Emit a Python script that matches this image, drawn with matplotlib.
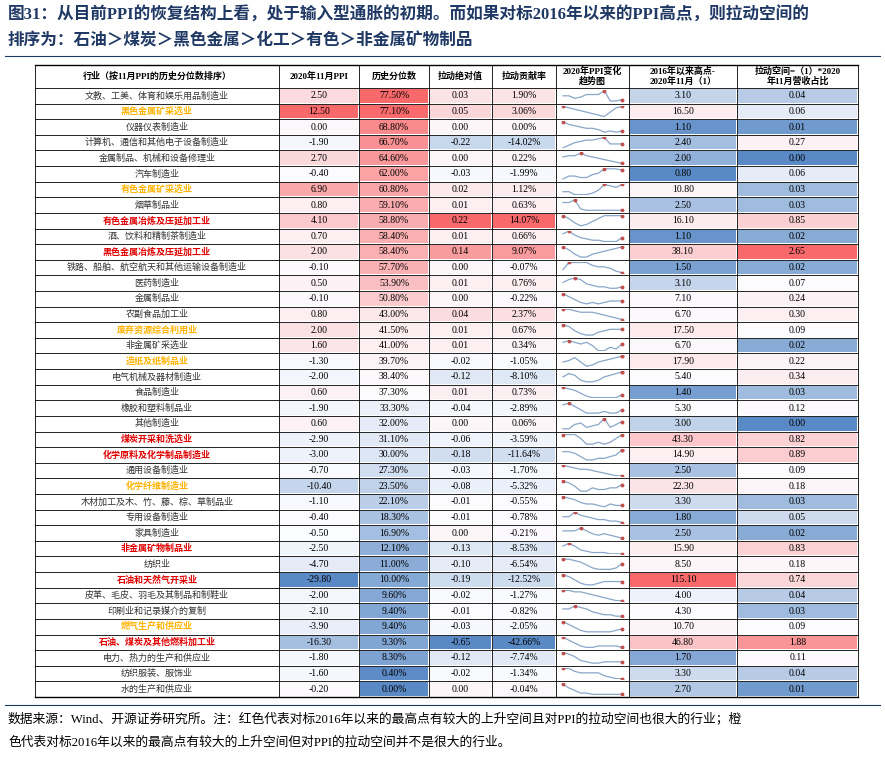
import numpy as np
import matplotlib.pyplot as plt
from matplotlib.patches import Rectangle

plt.rcParams['font.family'] = ['Noto Sans CJK SC', 'DejaVu Sans']

industries = ["文教、工美、体育和娱乐用品制造业", "黑色金属矿采选业", "仪器仪表制造业", "计算机、通信和其他电子设备制造业",
              "金属制品、机械和设备修理业", "汽车制造业", "有色金属矿采选业", "烟草制品业", "有色金属冶炼及压延加工业",
              "酒、饮料和精制茶制造业", "黑色金属冶炼及压延加工业", "铁路、船舶、航空航天和其他运输设备制造业", "医药制造业",
              "金属制品业", "农副食品加工业", "废弃资源综合利用业", "非金属矿采选业", "造纸及纸制品业", "电气机械及器材制造业",
              "食品制造业", "橡胶和塑料制品业", "其他制造业", "煤炭开采和洗选业", "化学原料及化学制品制造业", "通用设备制造业",
              "化学纤维制造业", "木材加工及木、竹、藤、棕、草制品业", "专用设备制造业", "家具制造业", "非金属矿物制品业", "纺织业",
              "石油和天然气开采业", "皮革、毛皮、羽毛及其制品和制鞋业", "印刷业和记录媒介的复制", "燃气生产和供应业",
              "石油、煤炭及其他燃料加工业", "电力、热力的生产和供应业", "纺织服装、服饰业", "水的生产和供应业"]
# 0 normal, 1 orange, 2 red
highlight = [0, 1, 0, 0, 0, 0, 1, 0, 2, 0, 2, 0, 0, 0, 0, 1, 0, 1, 0, 0, 0, 0, 2, 2, 0, 1, 0, 0, 0, 2, 0, 2, 0, 0, 1, 2, 0, 0, 0]
ppi = [2.5, 12.5, 0.0, -1.9, 2.7, -0.4, 6.9, 0.8, 4.1, 0.7, 2.0, -0.1, 0.5, -0.1, 0.8, 2.0, 1.6, -1.3, -2.0, 0.6,
       -1.9, 0.6, -2.9, -3.0, -0.7, -10.4, -1.1, -0.4, -0.5, -2.5, -4.7, -29.8, -2.0, -2.1, -3.9, -16.3, -1.8, -1.6, -0.2]
pct = [77.5, 77.1, 68.8, 66.7, 64.6, 62.0, 60.8, 59.1, 58.8, 58.4, 58.4, 57.7, 53.9, 50.8, 43.0, 41.5, 41.0, 39.7, 38.4, 37.3,
       33.3, 32.0, 31.1, 30.0, 27.3, 23.5, 22.1, 18.3, 16.9, 12.1, 11.0, 10.0, 9.6, 9.4, 9.4, 9.3, 8.3, 0.4, 0.0]
pull_abs = [0.03, 0.05, 0.00, -0.22, 0.00, -0.03, 0.02, 0.01, 0.22, 0.01, 0.14, 0.00, 0.01, 0.00, 0.04, 0.01, 0.01, -0.02, -0.12, 0.01,
            -0.04, 0.00, -0.06, -0.18, -0.03, -0.08, -0.01, -0.01, 0.00, -0.13, -0.10, -0.19, -0.02, -0.01, -0.03, -0.65, -0.12, -0.02, 0.00]
contrib = [1.90, 3.06, 0.00, -14.02, 0.22, -1.99, 1.12, 0.63, 14.07, 0.66, 9.07, -0.07, 0.76, -0.22, 2.37, 0.67, 0.34, -1.05, -8.10, 0.73,
           -2.89, 0.06, -3.59, -11.64, -1.70, -5.32, -0.55, -0.78, -0.21, -8.53, -6.54, -12.52, -1.27, -0.82, -2.05, -42.66, -7.74, -1.34, -0.04]
gap_high = [3.1, 16.5, 1.1, 2.4, 2.0, 0.8, 10.8, 2.5, 16.1, 1.1, 38.1, 1.5, 3.1, 7.1, 6.7, 17.5, 6.7, 17.9, 5.4, 1.4,
            5.3, 3.0, 43.3, 14.9, 2.5, 22.3, 3.3, 1.8, 2.5, 15.9, 8.5, 115.1, 4.0, 4.3, 10.7, 46.8, 1.7, 3.3, 2.7]
space = [0.04, 0.06, 0.01, 0.27, 0.00, 0.06, 0.03, 0.03, 0.85, 0.02, 2.65, 0.02, 0.07, 0.24, 0.30, 0.09, 0.02, 0.22, 0.34, 0.03,
         0.12, 0.00, 0.82, 0.89, 0.09, 0.18, 0.03, 0.05, 0.02, 0.83, 0.18, 0.74, 0.04, 0.03, 0.09, 1.88, 0.11, 0.04, 0.01]
# 2020 PPI trend shape per industry (relative, read from sparklines)
trend = [[5,5,3,4,6,6,6,9,1,1,2], [8,7,6,5,4,3,2,1,4,7,8], [9,7,6,5,4,4,3,1,2,1,2], [1,3,5,6,7,7,8,9,4,4,4],
         [6,7,7,9,7,6,5,4,3,2,1], [1,3,3,2,2,4,5,8,8,8,7], [3,3,1,1,1,2,4,8,7,6,8], [7,7,9,2,1,1,1,1,1,1,1],
         [8,6,3,1,2,4,6,8,8,8,8], [7,9,6,4,3,2,2,1,1,1,4], [8,6,3,1,1,3,4,5,6,7,8], [3,8,8,8,8,6,5,5,4,2,1],
         [5,7,8,7,4,3,2,2,1,1,2], [9,7,5,3,2,3,2,3,4,4,4], [8,8,7,6,6,6,5,4,3,2,1], [9,8,5,3,2,2,4,5,6,6,6],
         [7,8,7,6,7,5,2,2,4,3,6], [4,5,7,4,1,2,4,5,6,7,8], [4,6,5,2,1,1,2,4,5,6,7], [9,8,7,5,3,2,2,2,2,2,4],
         [7,8,6,4,2,2,2,3,2,2,4], [2,2,5,6,3,4,5,9,3,5,7], [7,7,7,5,2,2,3,2,3,5,7], [6,6,5,3,1,1,2,2,3,4,7],
         [9,8,7,6,6,5,4,3,2,1,1], [8,7,5,2,2,4,3,3,4,4,6], [8,7,6,4,3,3,2,1,3,2,2], [5,5,8,6,5,4,3,3,2,2,1],
         [6,6,6,8,6,4,3,4,3,2,1], [7,9,7,4,3,2,2,2,1,1,1], [8,8,7,6,4,2,1,1,1,2,5], [8,7,5,3,2,2,3,4,4,4,4],
         [8,8,7,7,6,5,4,3,2,1,1], [6,6,8,7,6,4,3,2,2,1,1], [9,7,5,3,2,2,2,2,2,3,4], [9,7,5,3,2,2,3,3,3,3,2],
         [9,8,6,3,2,1,1,2,2,2,2], [8,8,6,5,5,5,5,3,2,1,1], [9,6,4,2,2,1,1,1,1,1,1]]
headers = ["行业（按11月PPI的历史分位数排序）", "2020年11月PPI", "历史分位数", "拉动绝对值", "拉动贡献率",
           "2020年PPI变化\n趋势图", "2016年以来高点-\n2020年11月（1）", "拉动空间=（1）*2020\n年11月营收占比"]

W, H = 885, 764
fig = plt.figure(figsize=(W / 100, H / 100), dpi=100)
ax = fig.add_axes([0, 0, 1, 1])
ax.set_xlim(0, W)
ax.set_ylim(H, 0)
ax.axis('off')

RED = np.array([248, 105, 107]) / 255
BLUE = np.array([90, 138, 198]) / 255
WHITE = np.array([252, 252, 255]) / 255

def scale_color(v, vals):
    lo, hi, med = min(vals), max(vals), np.median(vals)
    if v >= med:
        t = 0 if hi == med else (v - med) / (hi - med)
        return WHITE + (RED - WHITE) * t
    t = (med - v) / (med - lo)
    return WHITE + (BLUE - WHITE) * t

xb = [35, 279, 359, 429, 492, 556, 629, 737, 858]
top, head_h = 65, 23
n = len(industries)
rh = (697 - top - head_h) / n
num = ['Liberation Serif', 'Noto Sans CJK SC']

ax.text(8, 15, "图31：从目前PPI的恢复结构上看，处于输入型通胀的初期。而如果对标2016年以来的PPI高点，则拉动空间的",
        fontsize=12, fontweight='bold', color='#1f3864', va='center', family=['Liberation Serif', 'Noto Sans CJK SC'])
ax.text(8, 40, "排序为：石油＞煤炭＞黑色金属＞化工＞有色＞非金属矿物制品",
        fontsize=12, fontweight='bold', color='#1f3864', va='center')
ax.plot([5, 880], [56, 56], color='#1f3864', lw=0.8)

for j, h in enumerate(headers):
    ax.text((xb[j] + xb[j + 1]) / 2, top + head_h / 2, h, ha='center', va='center', fontsize=6.5,
            fontweight='bold', linespacing=1.1, family=num)

cols = [(ppi, "{:.2f}"), (pct, "{:.2f}%"), (pull_abs, "{:.2f}"), (contrib, "{:.2f}%")]
label_colors = ['#333333', '#ffb300', '#e00000']
for i in range(n):
    y0 = top + head_h + i * rh
    yc = y0 + rh / 2
    hl = highlight[i]
    ax.text((xb[0] + xb[1]) / 2, yc, industries[i], ha='center', va='center', fontsize=6.5,
            color=label_colors[hl], fontweight='bold' if hl else 'normal')
    for k, (vals, fmt) in enumerate(cols):
        c = scale_color(vals[i], vals)
        ax.add_patch(Rectangle((xb[k + 1] + 1, y0 + 1), xb[k + 2] - xb[k + 1] - 2, rh - 2, color=c, lw=0))
        ax.text((xb[k + 1] + xb[k + 2]) / 2, yc, fmt.format(vals[i]), ha='center', va='center', fontsize=7, family=num)
    for k, vals in ((6, gap_high), (7, space)):
        c = scale_color(vals[i], vals)
        ax.add_patch(Rectangle((xb[k] + 1, y0 + 1), xb[k + 1] - xb[k] - 2, rh - 2, color=c, lw=0))
        ax.text((xb[k] + xb[k + 1]) / 2, yc, "{:.2f}".format(vals[i]), ha='center', va='center', fontsize=7, family=num)
    # sparkline
    sx = fig.add_axes([(xb[5] + 4) / W, 1 - (y0 + rh - 2) / H, (xb[6] - xb[5] - 8) / W, (rh - 4) / H])
    tr = trend[i]
    sx.plot(range(len(tr)), tr, color='#8aa6c8', lw=0.9)
    imax = int(np.argmax(tr))
    sx.plot([imax, len(tr) - 1], [tr[imax], tr[-1]], 'o', color='#c0504d', ms=1.8)
    sx.set_ylim(min(tr) - 0.5, max(tr) + 0.5)
    sx.axis('off')
    ax.plot([xb[0], xb[-1]], [y0, y0], color='black', lw=0.6)

ax.plot([xb[0], xb[-1]], [697, 697], color='black', lw=1.0)
ax.plot([xb[0], xb[-1]], [top, top], color='black', lw=1.0)
for x in xb:
    ax.plot([x, x], [top, 697], color='black', lw=0.6)

ax.plot([5, 880], [705, 705], color='#1f3864', lw=0.8)
ax.text(8, 719, "数据来源：Wind、开源证券研究所。注：红色代表对标2016年以来的最高点有较大的上升空间且对PPI的拉动空间也很大的行业；橙",
        fontsize=9.2, va='center', family=num)
ax.text(8, 743, "色代表对标2016年以来的最高点有较大的上升空间但对PPI的拉动空间并不是很大的行业。",
        fontsize=9.2, va='center', family=num)

fig.savefig('out.png', dpi=100)
